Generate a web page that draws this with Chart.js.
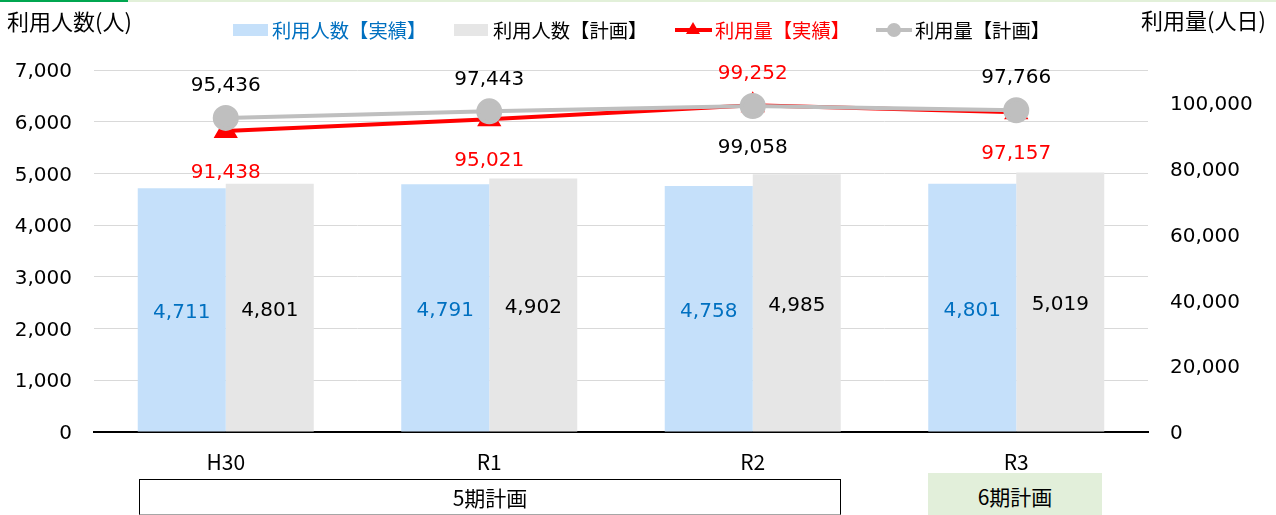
<!DOCTYPE html>
<html>
<head>
<meta charset="utf-8">
<script src="https://cdn.jsdelivr.net/npm/chart.js@4.4.0/dist/chart.umd.min.js"></script>
<style>
  body { margin: 0; background: #fff; }
  #wrap { position: relative; width: 1276px; height: 515px; overflow: hidden; font-family: "Noto Sans CJK JP", sans-serif; color: #000; }
  #chart { position: absolute; left: 0; top: 0; }
  .abs { position: absolute; white-space: nowrap; }
  .title { font-size: 22px; line-height: 28px; }
  .leg-text { font-size: 19.3px; line-height: 26px; top: 17px; }
  .leg-box { top: 24px; height: 12px; }
  .period { font-size: 21px; line-height: 34px; text-align: center; box-sizing: border-box; }
</style>
</head>
<body>
<div id="wrap">
  <canvas id="chart" width="1276" height="515"></canvas>

  <!-- 上部の罫線 -->
  <div class="abs" style="left:0;top:0;width:128px;height:2px;background:#00A650"></div>
  <div class="abs" style="left:128px;top:0;width:1148px;height:2px;background:#E2F0D9"></div>

  <!-- 軸タイトル -->
  <div class="abs title" style="left:7px;top:6px">利用人数(人)</div>
  <div class="abs title" style="left:1141px;top:5px">利用量(人日)</div>

  <!-- 凡例 -->
  <div class="abs leg-box" style="left:233px;width:35px;background:#C5E0FA"></div>
  <div class="abs leg-text" style="left:272px;color:#0070C0">利用人数【実績】</div>
  <div class="abs leg-box" style="left:454px;width:34px;background:#E6E6E6"></div>
  <div class="abs leg-text" style="left:493px">利用人数【計画】</div>
  <div class="abs" style="left:675px;top:28px;width:37px;height:4px;background:#FF0000"></div>
  <div class="abs" style="left:686px;top:22px;width:0;height:0;border-left:7px solid transparent;border-right:7px solid transparent;border-bottom:12px solid #FF0000"></div>
  <div class="abs leg-text" style="left:715px;color:#FF0000">利用量【実績】</div>
  <div class="abs" style="left:876px;top:28px;width:36px;height:4px;background:#BFBFBF"></div>
  <div class="abs" style="left:887px;top:23px;width:14px;height:14px;border-radius:50%;background:#BFBFBF"></div>
  <div class="abs leg-text" style="left:915px">利用量【計画】</div>

  <!-- 計画期間 -->
  <div class="abs period" style="left:139px;top:479px;width:702px;height:36px;border:1px solid #000;border-bottom-color:#A6A6A6">5期計画</div>
  <div class="abs period" style="left:928px;top:473px;width:174px;height:42px;line-height:46px;background:#E2EFDA">6期計画</div>
</div>

<script>
// ── データ ───────────────────────────────────────────────
const CATEGORIES    = ["H30", "R1", "R2", "R3"];
const USERS_ACTUAL  = [4711, 4791, 4758, 4801];      // 利用人数【実績】
const USERS_PLAN    = [4801, 4902, 4985, 5019];      // 利用人数【計画】
const VOLUME_ACTUAL = [91438, 95021, 99252, 97157];  // 利用量【実績】
const VOLUME_PLAN   = [95436, 97443, 99058, 97766];  // 利用量【計画】

const LEFT_MAX  = 7000, LEFT_STEP = 1000;
const RIGHT_MAX = 110000;
const RIGHT_TICKS = [0, 20000, 40000, 60000, 80000, 100000];

const NUM_FONT = "'DejaVu Sans', Verdana, sans-serif";

// ── データラベル ─────────────────────────────────────────
const valueLabels = {
  id: "valueLabels",
  afterDatasetsDraw(chart) {
    const ctx = chart.ctx;
    ctx.save();
    ctx.font = "20px " + NUM_FONT;
    ctx.textAlign = "center";
    ctx.textBaseline = "middle";
    chart.data.datasets.forEach((ds, di) => {
      const meta = chart.getDatasetMeta(di);
      meta.data.forEach((el, i) => {
        const v = ds.data[i];
        let y;
        if (ds.type === "bar") {
          y = (el.y + el.base) / 2 + 3;
        } else {
          // 値の大きい方を上、小さい方を下に
          const other = chart.data.datasets[ds.pairIndex].data[i];
          y = v >= other ? el.y - 32 : el.y + 42;
        }
        ctx.fillStyle = ds.labelColor;
        ctx.fillText(v.toLocaleString("en-US"), el.x, y);
      });
    });
    ctx.restore();
  }
};

new Chart(document.getElementById("chart"), {
  data: {
    labels: CATEGORIES,
    datasets: [
      {
        type: "line", label: "利用量【計画】", data: VOLUME_PLAN, yAxisID: "y2",
        borderColor: "#BFBFBF", backgroundColor: "#BFBFBF", borderWidth: 4,
        pointStyle: "circle", pointRadius: 11, pointHoverRadius: 11,
        order: 0, labelColor: "#000", pairIndex: 1,
      },
      {
        type: "line", label: "利用量【実績】", data: VOLUME_ACTUAL, yAxisID: "y2",
        borderColor: "#FF0000", backgroundColor: "#FF0000", borderWidth: 4,
        pointStyle: "triangle", pointRadius: 10, pointHoverRadius: 10,
        order: 1, labelColor: "#FF0000", pairIndex: 0,
      },
      {
        type: "bar", label: "利用人数【実績】", data: USERS_ACTUAL, yAxisID: "y",
        backgroundColor: "#C5E0FA", order: 2, labelColor: "#0070C0",
        categoryPercentage: 0.668, barPercentage: 1,
      },
      {
        type: "bar", label: "利用人数【計画】", data: USERS_PLAN, yAxisID: "y",
        backgroundColor: "#E6E6E6", order: 2, labelColor: "#000",
        categoryPercentage: 0.668, barPercentage: 1,
      },
    ]
  },
  options: {
    responsive: false,
    animation: false,
    layout: { padding: { top: 70, bottom: 33, left: 0, right: 0 } },
    plugins: { legend: { display: false }, tooltip: { enabled: false } },
    scales: {
      x: {
        grid: { display: false, drawTicks: false },
        border: { color: "#000", width: 2 },
        ticks: { color: "#000", padding: 17, font: { family: "'Noto Sans CJK JP'", size: 21 } },
        afterFit: s => { s.height = 50; },
      },
      y: {
        position: "left", min: 0, max: LEFT_MAX,
        grid: { color: "#D9D9D9", lineWidth: 1, drawTicks: false },
        border: { display: false },
        ticks: {
          stepSize: LEFT_STEP, padding: 22, labelOffset: 2, color: "#000",
          font: { family: NUM_FONT, size: 20 },
          callback: v => v.toLocaleString("en-US"),
        },
        afterFit: s => { s.width = 94; },
      },
      y2: {
        position: "right", min: 0, max: RIGHT_MAX,
        grid: { display: false, drawTicks: false },
        border: { display: false },
        ticks: {
          padding: 22, labelOffset: 2, color: "#000",
          font: { family: NUM_FONT, size: 20 },
          callback: v => v.toLocaleString("en-US"),
        },
        afterBuildTicks: s => { s.ticks = RIGHT_TICKS.map(v => ({ value: v })); },
        afterFit: s => { s.width = 128; },
      },
    }
  },
  plugins: [valueLabels]
});
</script>
</body>
</html>
